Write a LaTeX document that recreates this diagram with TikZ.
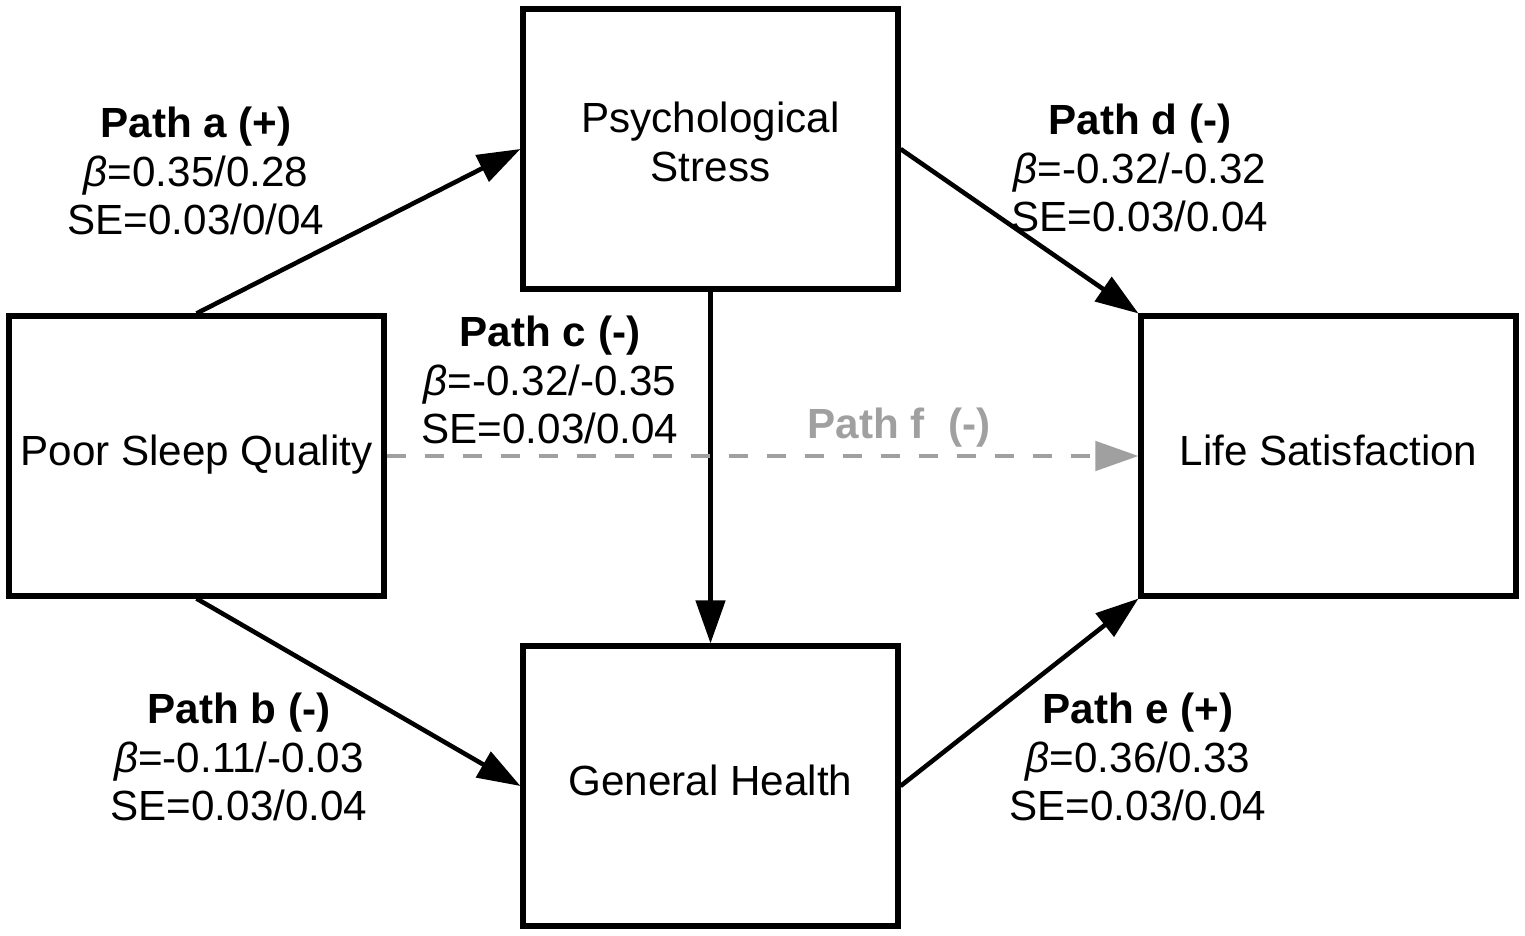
\documentclass[tikz,border=0pt]{standalone}
\usepackage{fontspec}
\setmainfont{Liberation Sans}
\usepackage{tikz}
\usetikzlibrary{arrows.meta,positioning}
\definecolor{pathgray}{HTML}{A0A0A0}

\begin{document}
\begin{tikzpicture}[
    box/.style={draw, line width=1.45pt, minimum width=3.75cm, minimum height=2.8cm, inner sep=0pt, align=center, text height=9pt, text depth=3.6pt, font=\fontsize{12}{13.9}\selectfont},
    coef/.style={align=center, inner sep=0pt, font=\fontsize{12}{13.8}\selectfont},
    arrow/.style={-{Triangle[length=0.43cm, width=0.29cm]}, line width=1.3pt},
    direct/.style={arrow, color=pathgray, dash pattern=on 0.19cm off 0.19cm}
]
\useasboundingbox (0, 0) rectangle (15.25, 9.35);

% variables
\node[box] (sleep) at (1.965, 4.79) {Poor Sleep Quality};
\node[box, text height=, text depth=] (stress) at (7.105, 7.86) {Psychological\\Stress\rule[-4pt]{0pt}{0pt}};
\node[box] (health) at (7.105, 1.49) {General Health};
\node[box] (life) at (13.285, 4.79) {Life Satisfaction};

% path coefficients
\node[coef] (labA) at (1.96, 7.64) {\textbf{Path a (+)}\\\textit{β}=0.35/0.28\\SE=0.03/0/04};
\node[coef] (labB) at (2.39, 1.78) {\textbf{Path b (-)}\\\textit{β}=-0.11/-0.03\\SE=0.03/0.04};
\node[coef] (labC) at (5.50, 5.55) {\textbf{Path c (-)}\\\textit{β}=-0.32/-0.35\\SE=0.03/0.04};
\node[coef] (labD) at (11.40, 7.67) {\textbf{Path d (-)}\\\textit{β}=-0.32/-0.32\\SE=0.03/0.04};
\node[coef] (labE) at (11.38, 1.78) {\textbf{Path e (+)}\\\textit{β}=0.36/0.33\\SE=0.03/0.04};
\node[coef, text=pathgray] (labF) at (8.99, 5.07) {\textbf{Path f\ \ (-)}};

\draw[arrow] (sleep.north) -- (stress.west);
\draw[arrow] (sleep.south) -- (health.west);
\draw[arrow] (stress.south) -- (health.north);
\draw[arrow] (stress.east) -- (life.north west);
\draw[arrow] (health.east) -- (life.south west);
\draw[direct] (sleep.east) -- (life.west);

\end{tikzpicture}
\end{document}
